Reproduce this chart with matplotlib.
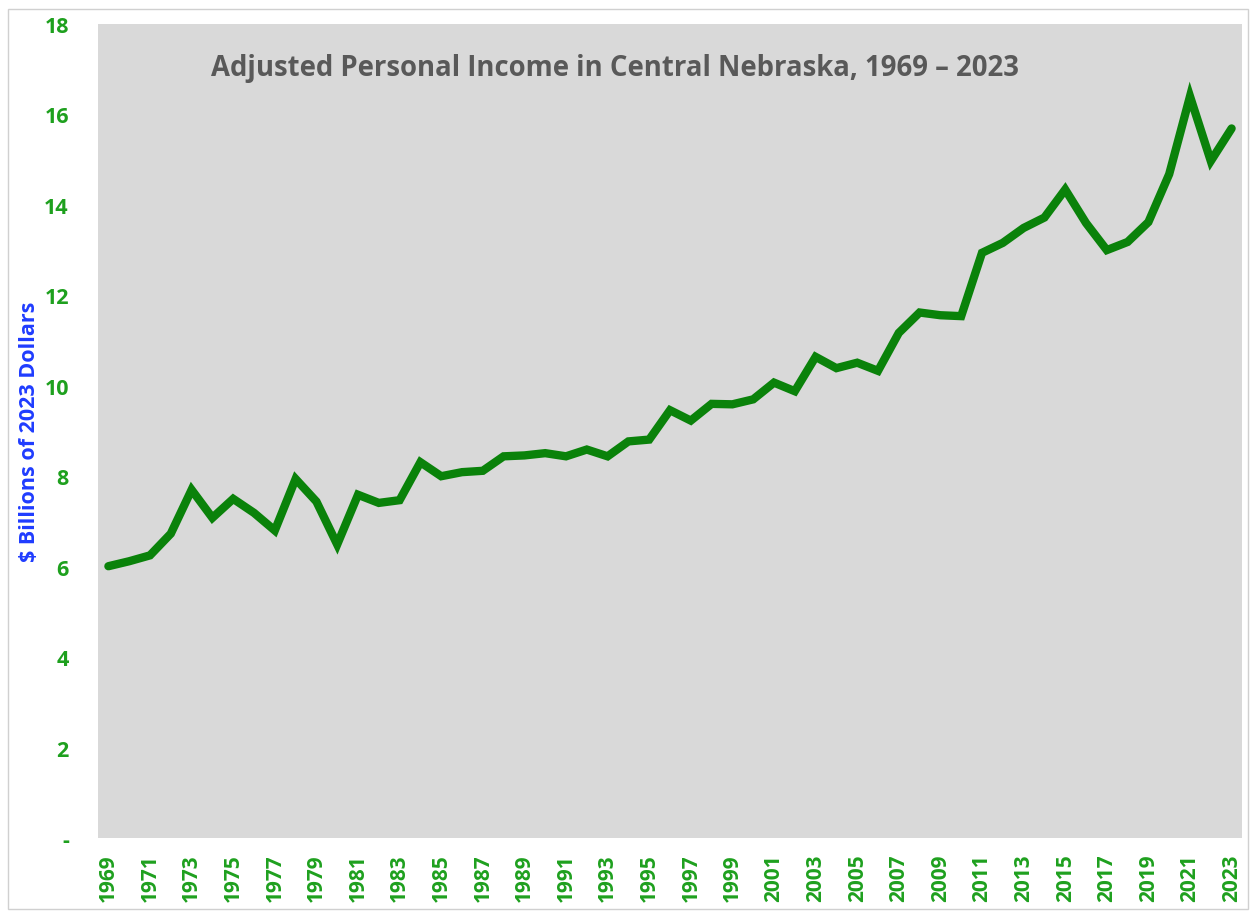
import matplotlib
matplotlib.use("Agg")
import matplotlib.pyplot as plt
from matplotlib.patches import Rectangle

years = list(range(1969, 2024))
income = [6.01, 6.12, 6.25, 6.73, 7.70, 7.08, 7.50, 7.19, 6.80, 7.94,
          7.44, 6.49, 7.59, 7.41, 7.47, 8.31, 8.00, 8.09, 8.12, 8.44,
          8.46, 8.51, 8.44, 8.59, 8.44, 8.77, 8.81, 9.46, 9.23, 9.60,
          9.59, 9.70, 10.07, 9.88, 10.64, 10.39, 10.51, 10.33, 11.17, 11.62,
          11.56, 11.54, 12.94, 13.16, 13.49, 13.72, 14.34, 13.60, 13.00, 13.18,
          13.62, 14.68, 16.40, 14.97, 15.69]
y_ticks = [0, 2, 4, 6, 8, 10, 12, 14, 16, 18]
y_tick_labels = ["-", "2", "4", "6", "8", "10", "12", "14", "16", "18"]
title = "Adjusted Personal Income in Central Nebraska, 1969 \u2013 2023"
y_label = "$ Billions of 2023 Dollars"

plt.rcParams['font.family'] = ['Open Sans', 'DejaVu Sans']

fig = plt.figure(figsize=(12.5, 9.12), dpi=100)
ax = fig.add_axes([98 / 1250, 1 - 839 / 912, (1242 - 98) / 1250, (839 - 25) / 912])
ax.set_facecolor('#d9d9d9')

x = list(range(len(years)))
ax.plot(x, income, color='#0a820a', linewidth=6.0, solid_joinstyle='miter',
        solid_capstyle='round')

ax.set_xlim(-0.5, len(years) - 0.5)
ax.set_ylim(0, 18)
ax.set_yticks(y_ticks)
ax.set_yticklabels(y_tick_labels)
ax.set_xticks(x[::2])
ax.set_xticklabels([str(y) for y in years[::2]], rotation=90)

tick_color = '#1ea01e'
ax.tick_params(axis='y', length=0, pad=21, labelsize=15.5, labelcolor=tick_color)
ax.tick_params(axis='x', length=0, pad=11, labelsize=15, labelcolor=tick_color)
for lab in ax.get_xticklabels() + ax.get_yticklabels():
    lab.set_fontweight('bold')

for s in ax.spines.values():
    s.set_visible(False)

ax.set_ylabel(y_label, color='#1f3cff', fontsize=15.5, fontweight='bold')
ax.yaxis.set_label_coords(-58 / 1144, 0.5)

ax.text(0.452, 0.946, title, transform=ax.transAxes, ha='center', va='center',
        fontsize=19.8, fontweight='bold', color='#595959')

fig.patches.append(Rectangle((8 / 1250, 2 / 912), 1 - 10 / 1250, 1 - 12 / 912,
                             transform=fig.transFigure, fill=False,
                             edgecolor='#d0d0d0', linewidth=1.0))

fig.savefig('out.png', dpi=100)
